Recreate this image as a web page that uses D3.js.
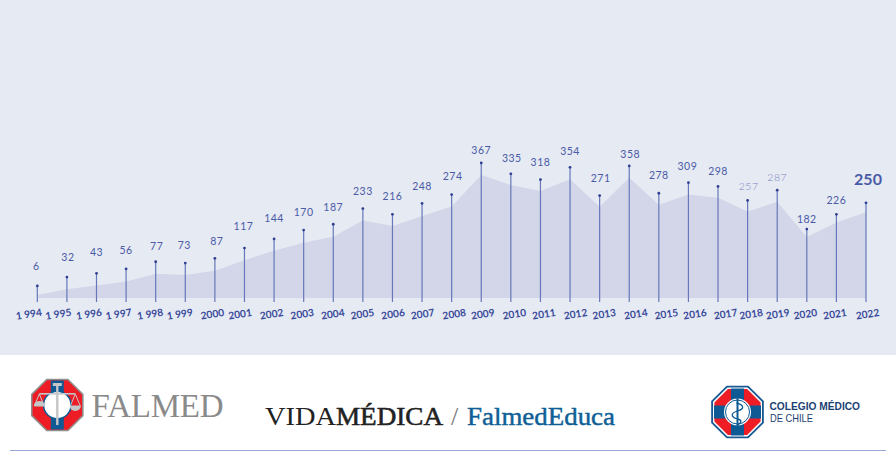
<!DOCTYPE html>
<html><head><meta charset="utf-8">
<script src="https://cdn.jsdelivr.net/npm/d3@7"></script>
<style>html,body{margin:0;padding:0;background:#fff}svg{display:block}</style></head>
<body><svg id="c" width="896" height="460"></svg>
<script>
const years=["1 994","1 995","1 996","1 997","1 998","1 999","2000","2001","2002","2003","2004","2005","2006","2007","2008","2009","2010","2011","2012","2013","2014","2015","2016","2017","2018","2019","2020","2021","2022"];
const printedValues=[6,32,43,56,77,73,87,117,144,170,187,233,216,248,274,367,335,318,354,271,358,278,309,298,257,287,182,226,250];
const stemValues=[6,32,43,56,77,73,87,117,144,170,187,233,216,248,274,367,335,318,354,271,358,278,309,298,257,287,173,216,250];
const areaValues=[9,26,37,49,72,69,81,113,141,165,183,231,215,245,273,367,337,319,354,272,359,278,309,299,258,287,182,225,256];
const labelLift=[20,20,21,19,16,18,17,22,21,18,17,17,18,17,18,13,16,17,16,17,12,18,16,15,14,13,10,14,24];
const labelShift=[-1,1,0,0,1,-1,2,-1,0,0,0,0,0,0,1,0,1,0,0,1,1,0,-1,0,1,0,0,0,2];
const tickShift=[-9,-9,-8,-8,-6,-6,-3,-5,-3,-2,-1,-1,0,0,2,1,3,3,5,4,6,7,6,7,3,0,-2,-2,1];

const svg=d3.select("#c");
svg.append("rect").attr("width",896).attr("height",355).attr("fill","#e6eaf3");
const x=d3.scalePoint().domain(years).range([37.3,866]);
const yStem=d3.scaleLinear().domain([0,367]).range([288,162.9]);
const yArea=d3.scaleLinear().domain([0,367]).range([298,175]);

svg.append("path").datum(areaValues)
  .attr("fill","#d2d6e8")
  .attr("d",d3.area().x((d,i)=>x(years[i])).y0(yArea(0)).y1(d=>yArea(d)));

const g=svg.append("g");
g.selectAll("line.stem").data(stemValues).join("line").attr("class","stem")
  .attr("x1",(d,i)=>x(years[i])).attr("x2",(d,i)=>x(years[i]))
  .attr("y1",d=>yStem(d)).attr("y2",302)
  .attr("stroke","#6777ba").attr("stroke-width",1.2);
g.selectAll("circle").data(stemValues).join("circle")
  .attr("cx",(d,i)=>x(years[i])).attr("cy",d=>yStem(d)).attr("r",1.4).attr("fill","#2f4092");

g.selectAll("text.v").data(printedValues).join("text").attr("class","v")
  .attr("x",(d,i)=>x(years[i])+labelShift[i])
  .attr("y",(d,i)=>yStem(stemValues[i])-labelLift[i])
  .attr("dy","0.36em").attr("text-anchor","middle")
  .attr("font-family","Lato").attr("letter-spacing",(d,i)=>i===28?0:0.5)
  .attr("font-size",(d,i)=>i===28?16:10.5)
  .attr("font-weight",(d,i)=>i===28?700:i===24||i===25?300:400)
  .attr("fill",(d,i)=>i===24||i===25?"#7a86c0":"#4a5aa6")
  .text(d=>d);

const axis=d3.axisBottom(x).tickSize(0).tickPadding(0);
const ax=svg.append("g").attr("transform","translate(0,314)").call(axis);
ax.select(".domain").remove();
ax.selectAll(".tick text")
  .attr("y",0).attr("dy","0.36em")
  .attr("font-family","Lato").attr("font-size",10.2).attr("font-weight",700)
  .attr("fill","#3a4b9b").attr("text-anchor","middle")
  .attr("transform",(d,i)=>`translate(${tickShift[i]},0) rotate(-9)`);

// Footer
svg.append("line").attr("x1",10).attr("x2",886).attr("y1",450.5).attr("y2",450.5).attr("stroke","#9aa9d3");

function octagon(r){const a=[];for(let k=0;k<8;k++){const t=Math.PI/8+k*Math.PI/4;a.push([r*Math.cos(t),r*Math.sin(t)]);}return a.map(p=>p.join(",")).join(" ");}

// Falmed logo
const f=svg.append("g").attr("transform","translate(57.3,405)");
f.append("polygon").attr("points",octagon(28.5)).attr("fill","#8f8f8f");
f.append("polygon").attr("points",octagon(26.8)).attr("fill","#ee1c25");
f.append("rect").attr("x",-6.5).attr("y",-24.5).attr("width",13).attr("height",49).attr("fill","#0d5a94");
f.append("circle").attr("r",14.5).attr("fill","#0d5a94");
f.append("circle").attr("r",13).attr("fill","#fff");
f.append("rect").attr("x",-1.2).attr("y",-21).attr("width",2.4).attr("height",41).attr("fill","#c4c6c8");
f.append("rect").attr("x",-4.5).attr("y",-22).attr("width",9).attr("height",3).attr("fill","#c4c6c8");
f.append("rect").attr("x",-18).attr("y",-12).attr("width",36).attr("height",1.6).attr("fill","#c4c6c8");
[-1,1].forEach(s=>{
  f.append("path").attr("d",`M${s*18} -11 L${s*13} 1 H${s*23} Z`).attr("fill","none").attr("stroke","#c4c6c8");
  f.append("path").attr("d",`M${s*12.5} 1 H${s*23.5} A5.5 5 0 0 1 ${s*12.5} 1 Z`).attr("fill","#c4c6c8");
});
svg.append("text").attr("x",91.5).attr("y",416.7).attr("font-family","Liberation Serif").attr("font-size",33)
  .attr("fill","#8a8a8a").attr("textLength",132).attr("lengthAdjust","spacing").text("FALMED");

// Vida Medica
svg.append("text").attr("x",265).attr("y",425).attr("font-family","Liberation Serif").attr("font-size",26).attr("fill","#222")
  .attr("textLength",71).attr("lengthAdjust","spacingAndGlyphs").text("VIDA");
svg.append("text").attr("x",336).attr("y",425).attr("font-family","Liberation Serif").attr("font-size",26).attr("fill","#222")
  .attr("stroke","#222").attr("stroke-width",0.55)
  .attr("textLength",107).attr("lengthAdjust","spacingAndGlyphs").text("MÉDICA");
svg.append("text").attr("x",451).attr("y",425).attr("font-family","Liberation Serif").attr("font-size",26).attr("fill","#777").text("/");
svg.append("text").attr("x",467).attr("y",425).attr("font-family","Liberation Serif").attr("font-size",26).attr("fill","#0f5f96")
  .attr("stroke","#0f5f96").attr("stroke-width",0.45)
  .attr("textLength",148).attr("lengthAdjust","spacingAndGlyphs").text("FalmedEduca");

// Colegio logo
const c=svg.append("g").attr("transform","translate(737.5,412)");
c.append("polygon").attr("points",octagon(28.5)).attr("fill","#1a5a92");
c.append("polygon").attr("points",octagon(26.5)).attr("fill","#fff");
c.append("polygon").attr("points",octagon(25)).attr("fill","#ee1c25");
c.append("rect").attr("x",-6.5).attr("y",-23.5).attr("width",13).attr("height",47).attr("fill","#0d5a94");
c.append("rect").attr("x",-23.5).attr("y",-6.5).attr("width",47).attr("height",13).attr("fill","#0d5a94");
c.append("circle").attr("r",13.5).attr("fill","#fff");
c.append("circle").attr("r",12).attr("fill","none").attr("stroke","#0d5a94").attr("stroke-width",1);
c.append("rect").attr("x",-1).attr("y",-20).attr("width",2).attr("height",38).attr("fill","#0d5a94");
c.append("path").attr("d","M-1 -9 C7 -7 7 -3 0 -1 C-7 1 -7 5 0 7 C5 8 4 11 0 13").attr("fill","none").attr("stroke","#0d5a94").attr("stroke-width",1.3);
svg.append("text").attr("x",769.5).attr("y",410).attr("font-family","Liberation Sans").attr("font-weight",700).attr("font-size",10.5).attr("fill","#1c3f73")
  .attr("textLength",90.5).attr("lengthAdjust","spacingAndGlyphs").text("COLEGIO MÉDICO");
svg.append("text").attr("x",770).attr("y",422).attr("font-family","Liberation Sans").attr("font-size",10.5).attr("fill","#1c3f73")
  .attr("textLength",43).attr("lengthAdjust","spacingAndGlyphs").text("DE CHILE");
</script></body></html>
